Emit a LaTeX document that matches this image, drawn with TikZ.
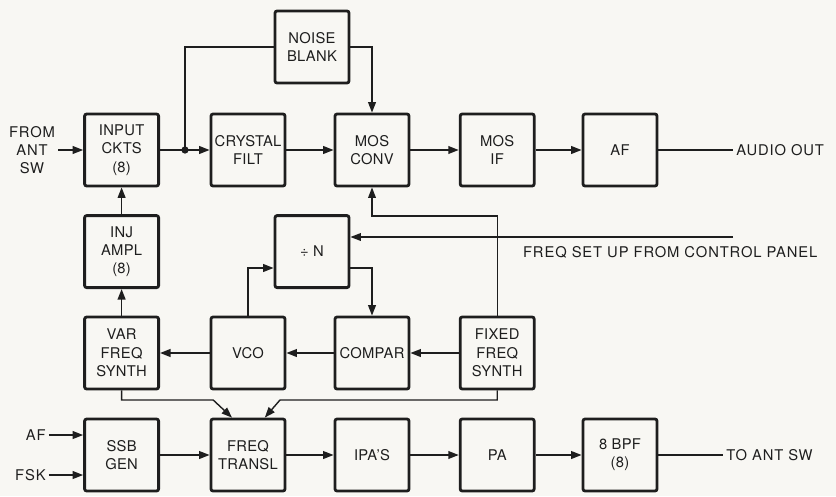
\documentclass[tikz,border=0pt]{standalone}
\usepackage{fontspec}
\setmainfont[LetterSpace=2]{TeX Gyre Heros}
\usepackage{tikz}
\usetikzlibrary{positioning, arrows.meta, calc}
\definecolor{Ink}{RGB}{30,30,30}
\definecolor{Paper}{RGB}{248,247,243}

\begin{document}
\begin{tikzpicture}[
          bx/.style={rectangle, rounded corners=1.5pt, draw=Ink, line width=2pt,
                     minimum width=1.85cm, minimum height=1.8cm, inner sep=1pt,
                     align=center, text=Ink, font=\fontsize{10.5}{13}\selectfont},
          lbl/.style={text=Ink, inner sep=2pt, align=center,
                      font=\fontsize{10.5}{13}\selectfont\addfontfeature{LetterSpace=6}},
          arr/.style={-{Triangle[length=7.5pt, width=5.5pt]}, draw=Ink, line width=1.25pt},
          arrthin/.style={arr, line width=1pt},
          ln/.style={draw=Ink, line width=1.25pt}
        ]
        \fill[Paper] (0,0) rectangle (20.9,12.4);
        \useasboundingbox (0,0) rectangle (20.9,12.4);

        % RECEIVE
        \node[bx] (noise)   at (7.8, 11.225) {NOISE\\BLANK};
        \node[bx] (input)   at (3.04, 8.65) {INPUT\\CKTS\\(8)};
        \node[bx] (crystal) at (6.2, 8.65)  {CRYSTAL\\FILT};
        \node[bx] (mosconv) at (9.3, 8.65)  {MOS\\CONV};
        \node[bx] (mosif)   at (12.43, 8.65) {MOS\\IF};
        \node[bx] (af)      at (15.5, 8.65) {AF};
        \node[lbl] (fromant) at (0.8, 8.65) {FROM\\ANT\\SW};
        \node[lbl, anchor=west] (audio) at (18.33, 8.65) {AUDIO OUT};
        \coordinate (split) at (4.625, 8.65);

        \draw[arr] (fromant.east) -- (input.west);
        \draw[arr] (input.east) -- (crystal.west);
        \fill[Ink] (split) circle (2.6pt);
        \draw[ln] (split) |- (noise.west);
        \draw[arr] (noise.east) -| (mosconv.north);
        \draw[arr] (crystal) -- (mosconv);
        \draw[arr] (mosconv) -- (mosif);
        \draw[arr] (mosif) -- (af);
        \draw[ln] (af.east) -- (audio.west);

        % SYNTHESIZER
        \node[bx] (injampl) at (3.04, 6.11)  {INJ\\AMPL\\(8)};
        \node[bx] (divn)    at (7.8, 6.11)   {÷ N};
        \node[bx] (varfreq) at (3.04, 3.575) {VAR\\FREQ\\SYNTH};
        \node[bx] (vco)     at (6.2, 3.575)  {VCO};
        \node[bx] (compar)  at (9.3, 3.575)  {COMPAR};
        \node[bx] (fixed)   at (12.43, 3.575) {FIXED\\FREQ\\SYNTH};
        \node[lbl, anchor=west] (setuptxt) at (13.0, 6.1)
              {FREQ SET UP FROM CONTROL PANEL};
        \coordinate (setup) at (18.33, 6.475);

        \draw[arr] (injampl) -- (input);
        \draw[arr] (varfreq) -- (injampl);
        \draw[arrthin] (setup) -- (setup -| divn.east);
        \draw[arrthin] (fixed.north) |- ($(mosconv.south)+(0,-0.715)$)
              -- (mosconv.south);
        \draw[arr] (vco.north) |- ([yshift=-0.41cm]divn.west);
        \draw[arr] ([yshift=-0.41cm]divn.east) -| (compar.north);
        \draw[arr] (compar) -- (vco);
        \draw[arr] (vco) -- (varfreq);
        \draw[arr] (fixed) -- (compar);

        % TRANSMIT
        \node[bx] (ssb)    at (3.04, 1.025)  {SSB\\GEN};
        \node[bx] (freqtr) at (6.2, 1.025)   {FREQ\\TRANSL};
        \node[bx] (ipas)   at (9.3, 1.025)   {IPA'S};
        \node[bx] (pa)     at (12.43, 1.025) {PA};
        \node[bx] (bpf)    at (15.5, 1.025)  {8 BPF\\(8)};
        \node[lbl, anchor=east] (afin)  at (1.22, 1.525) {AF};
        \node[lbl, anchor=east] (fskin) at (1.22, 0.525) {FSK};
        \node[lbl, anchor=west] (antsw) at (18.08, 1.025) {TO ANT SW};

        \draw[arrthin] (varfreq.south) |- (5.33, 2.4)
              -- ([xshift=-0.4cm]freqtr.north);
        \draw[arrthin] (fixed.south) |- (7.0, 2.4)
              -- ([xshift=0.42cm]freqtr.north);
        \draw[arr] (afin.east) -- (afin.east -| ssb.west);
        \draw[arr] (fskin.east) -- (fskin.east -| ssb.west);
        \draw[arr] (ssb) -- (freqtr);
        \draw[arr] (freqtr) -- (ipas);
        \draw[arr] (ipas) -- (pa);
        \draw[arr] (pa) -- (bpf);
        \draw[ln] (bpf.east) -- (antsw.west);
      \end{tikzpicture}
\end{document}
